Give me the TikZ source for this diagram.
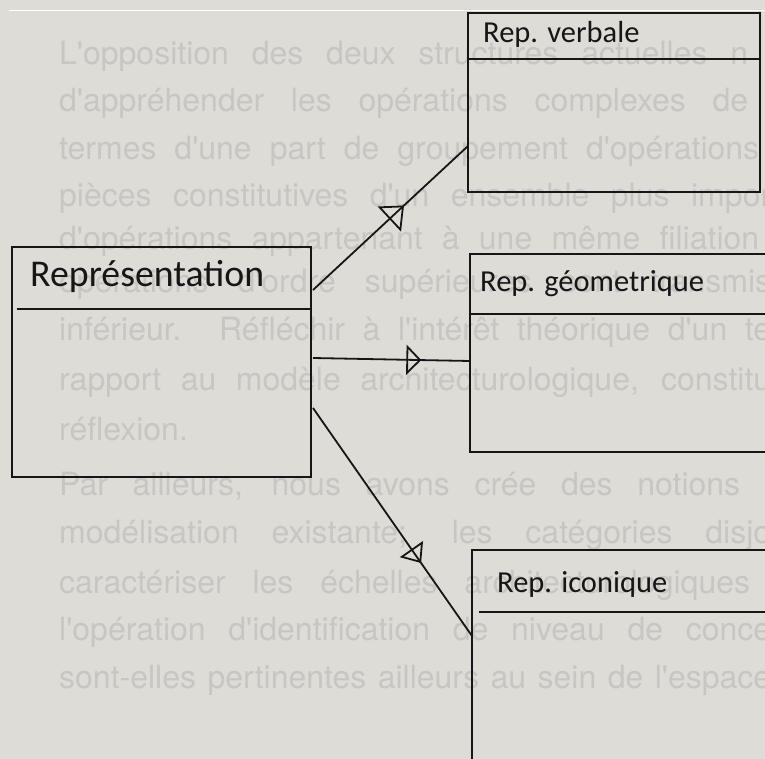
\documentclass[tikz,border=0pt]{standalone}
\usepackage{fontspec}
\setmainfont{Carlito}
\newfontfamily\pagefont{TeX Gyre Heros}
\usetikzlibrary{arrows.meta,decorations.markings,calc}

\definecolor{paper}{RGB}{221,220,215}
\definecolor{ghost}{RGB}{199,198,195}
\definecolor{ink}{RGB}{22,22,22}

\tikzset{
  umlbox/.style={draw=ink, line width=2.4pt, rectangle, anchor=north west,
    inner sep=0pt, outer sep=0pt},
  boxtitle/.style={anchor=base west, inner sep=0pt, text=ink,
    font=\fontsize{30.5}{36}\selectfont},
  bigtitle/.style={boxtitle, font=\fontsize{37.8}{44}\selectfont},
  divider/.style={draw=ink, line width=2.4pt},
  conn/.style={draw=ink, line width=1.8pt, postaction={decorate}},
  tipat/.style n args={3}{decoration={markings,
    mark=at position #1 with {\arrow[line width=1.8pt]{Triangle[open,length=#2,width=#3]}}}},
  ghostline/.style={anchor=base west, inner sep=0pt, text=ghost,
    font=\pagefont\fontsize{32}{38}\selectfont},
}

\begin{document}
\begin{tikzpicture}[x=1pt,y=-1pt]
  \useasboundingbox (0,0) rectangle (765,759);
  \clip (0,0) rectangle (765,759);
  \fill[paper] (0,0) rectangle (765,759);
  \draw[white, line width=1pt] (9,11) -- (765,11);

  % page text showing through behind the diagram
  \node[ghostline] (g1)  at (59,65)  {\makebox[689pt][s]{L'opposition des deux structures actuelles n}};
  \node[ghostline] (g2)  at (59,112) {\makebox[689pt][s]{d'appréhender les opérations complexes de}};
  \node[ghostline] (g3)  at (59,160) {\makebox[700pt][s]{termes d'une part de groupement d'opérations}};
  \node[ghostline] (g4)  at (59,207) {\makebox[712pt][s]{pièces constitutives d'un ensemble plus impor}};
  \node[ghostline] (g5)  at (59,250) {\makebox[700pt][s]{d'opérations appartenant à une même filiation}};
  \node[ghostline] (g6)  at (59,292) {\makebox[712pt][s]{opérations d'ordre supérieures sont transmis}};
  \node[ghostline] (g7)  at (59,340) {\makebox[712pt][s]{inférieur. Réfléchir à l'intérêt théorique d'un te}};
  \node[ghostline] (g8)  at (59,390) {\makebox[712pt][s]{rapport au modèle architecturologique, constitu}};
  \node[ghostline] (g9)  at (59,440) {réflexion.};
  \node[ghostline] (g10) at (59,495) {\makebox[681pt][s]{Par ailleurs, nous avons crée des notions}};
  \node[ghostline] (g11) at (59,543) {\makebox[712pt][s]{modélisation existante; les catégories disjo}};
  \node[ghostline] (g12) at (59,593) {\makebox[691pt][s]{caractériser les échelles architecturologiques}};
  \node[ghostline] (g13) at (59,640) {\makebox[712pt][s]{l'opération d'identification de niveau de conce}};
  \node[ghostline] (g14) at (59,688) {\makebox[712pt][s]{sont-elles pertinentes ailleurs au sein de l'espace}};

  % class boxes
  \node[umlbox, minimum width=299pt, minimum height=230pt] (rep)  at (12,247) {};
  \node[umlbox, minimum width=292pt, minimum height=179pt] (verb) at (468,13) {};
  \node[umlbox, minimum width=340pt, minimum height=198pt] (geo)  at (470,254) {};
  \node[umlbox, minimum width=340pt, minimum height=260pt] (ico)  at (472,550) {};

  % compartment dividers
  \draw[divider] ($(rep.north west)+(5,62)$)  -- ($(rep.north east)+(0,62)$);
  \draw[divider] ($(verb.north west)+(0,46)$) -- ($(verb.north east)+(0,46)$);
  \draw[divider] ($(geo.north west)+(0,60)$)  -- ($(geo.north east)+(0,60)$);
  \draw[divider] ($(ico.north west)+(7,62)$)  -- ($(ico.north east)+(0,62)$);

  % titles
  \node[bigtitle] (rep-t)  at (30,286)  {Représentation};
  \node[boxtitle] (verb-t) at (483,43)  {Rep. verbale};
  \node[boxtitle] (geo-t)  at (480,291) {Rep. géometrique};
  \node[boxtitle] (ico-t)  at (497,592) {Rep. iconique};

  % connector end points
  \coordinate (r1) at ($(rep.north east)+(2,43)$);
  \coordinate (r2) at ($(rep.north east)+(2,111)$);
  \coordinate (r3) at ($(rep.north east)+(2,161)$);
  \coordinate (v1) at ($(verb.north west)+(0,133)$);
  \coordinate (e1) at ($(geo.north west)+(0,107)$);
  \coordinate (i1) at ($(ico.north west)+(0,86)$);

  % associations with open triangles along them
  \draw[conn, tipat={0.587}{20pt}{34pt}] (r1) -- (v1);
  \draw[conn, tipat={0.69}{15pt}{30pt}]  (r2) -- (e1);
  \draw[conn, tipat={0.68}{17pt}{28pt}]  (r3) -- (i1);
\end{tikzpicture}
\end{document}
